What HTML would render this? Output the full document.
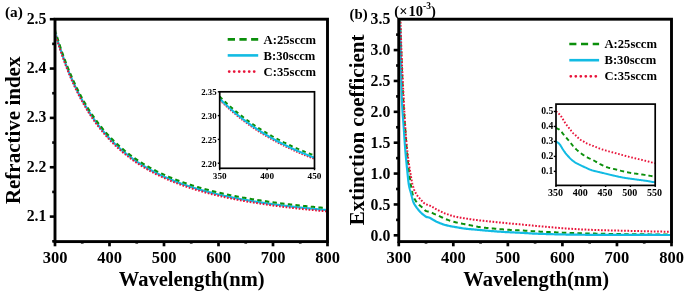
<!DOCTYPE html>
<html><head><meta charset="utf-8"><style>
html,body{margin:0;padding:0;background:#fff;}
svg{display:block;will-change:transform;}
text{font-family:'Liberation Serif',serif;font-weight:bold;fill:#000;}
</style></head><body>
<svg width="685" height="292" viewBox="0 0 685 292">
<rect width="685" height="292" fill="#fff"/>
<defs><clipPath id="ca"><rect x="56.4" y="20.6" width="269.7" height="219.6"/></clipPath><clipPath id="cb"><rect x="400.2" y="20.6" width="269.9" height="219.6"/></clipPath><clipPath id="cai"><rect x="219.7" y="91.8" width="94.8" height="76.5"/></clipPath><clipPath id="cbi"><rect x="556" y="104.1" width="99.2" height="81.3"/></clipPath></defs>
<g clip-path="url(#ca)" fill="none" stroke-width="2"><path d="M55.00,31.69 L56.09,35.39 L57.18,38.99 L58.27,42.49 L59.36,45.90 L60.45,49.21 L61.54,52.44 L62.63,55.58 L63.72,58.64 L64.81,61.62 L65.90,64.52 L66.99,67.35 L68.08,70.10 L69.17,72.79 L70.26,75.41 L71.35,77.96 L72.44,80.45 L73.53,82.88 L74.62,85.25 L75.71,87.56 L76.80,89.82 L77.89,92.02 L78.98,94.17 L80.07,96.27 L81.16,98.32 L82.25,100.33 L83.34,102.29 L84.43,104.20 L85.52,106.07 L86.61,107.90 L87.70,109.69 L88.79,111.43 L89.88,113.14 L90.97,114.81 L92.06,116.45 L93.15,118.05 L94.24,119.61 L95.33,121.14 L96.42,122.64 L97.51,124.11 L98.60,125.55 L99.69,126.96 L100.78,128.33 L101.87,129.68 L102.96,131.01 L104.05,132.30 L105.14,133.57 L106.23,134.82 L107.32,136.04 L108.41,137.23 L109.50,138.40 L110.59,139.55 L111.68,140.68 L112.77,141.78 L113.86,142.87 L114.95,143.93 L116.04,144.98 L117.13,146.00 L118.22,147.00 L119.31,147.99 L120.40,148.96 L121.49,149.91 L122.58,150.84 L123.67,151.76 L124.76,152.66 L125.85,153.54 L126.94,154.41 L128.03,155.26 L129.12,156.09 L130.21,156.92 L131.30,157.72 L132.39,158.52 L133.48,159.30 L134.57,160.07 L135.66,160.82 L136.75,161.56 L137.84,162.29 L138.93,163.01 L140.02,163.71 L141.11,164.40 L142.20,165.09 L143.29,165.76 L144.38,166.41 L145.47,167.06 L146.56,167.70 L147.65,168.33 L148.74,168.95 L149.83,169.56 L150.92,170.15 L152.01,170.74 L153.10,171.32 L154.19,171.89 L155.28,172.46 L156.37,173.01 L157.46,173.55 L158.55,174.09 L159.64,174.62 L160.73,175.14 L161.82,175.65 L162.91,176.16 L164.00,176.66 L165.09,177.15 L166.18,177.63 L167.27,178.10 L168.36,178.57 L169.45,179.04 L170.54,179.49 L171.63,179.94 L172.72,180.38 L173.81,180.82 L174.90,181.25 L175.99,181.67 L177.08,182.09 L178.17,182.50 L179.26,182.91 L180.35,183.31 L181.44,183.71 L182.53,184.10 L183.62,184.48 L184.71,184.86 L185.80,185.24 L186.89,185.61 L187.98,185.97 L189.07,186.33 L190.16,186.68 L191.25,187.03 L192.34,187.38 L193.43,187.72 L194.52,188.06 L195.61,188.39 L196.70,188.72 L197.79,189.04 L198.88,189.36 L199.97,189.68 L201.06,189.99 L202.15,190.30 L203.24,190.60 L204.33,190.90 L205.42,191.20 L206.51,191.49 L207.60,191.78 L208.69,192.06 L209.78,192.34 L210.87,192.62 L211.96,192.90 L213.05,193.17 L214.14,193.44 L215.23,193.70 L216.32,193.96 L217.41,194.22 L218.50,194.48 L219.59,194.73 L220.68,194.98 L221.77,195.23 L222.86,195.47 L223.95,195.71 L225.04,195.95 L226.13,196.19 L227.22,196.42 L228.31,196.65 L229.40,196.88 L230.49,197.10 L231.58,197.33 L232.67,197.55 L233.76,197.76 L234.85,197.98 L235.94,198.19 L237.03,198.40 L238.12,198.61 L239.21,198.82 L240.30,199.02 L241.39,199.22 L242.48,199.42 L243.57,199.62 L244.66,199.81 L245.75,200.00 L246.84,200.20 L247.93,200.38 L249.02,200.57 L250.11,200.75 L251.20,200.94 L252.29,201.12 L253.38,201.30 L254.47,201.47 L255.56,201.65 L256.65,201.82 L257.74,201.99 L258.83,202.16 L259.92,202.33 L261.01,202.50 L262.10,202.66 L263.19,202.83 L264.28,202.99 L265.37,203.15 L266.46,203.31 L267.55,203.46 L268.64,203.62 L269.73,203.77 L270.82,203.92 L271.91,204.07 L273.00,204.22 L274.09,204.37 L275.18,204.51 L276.27,204.66 L277.36,204.80 L278.45,204.94 L279.54,205.08 L280.63,205.22 L281.72,205.36 L282.81,205.50 L283.90,205.63 L284.99,205.77 L286.08,205.90 L287.17,206.03 L288.26,206.16 L289.35,206.29 L290.44,206.42 L291.53,206.54 L292.62,206.67 L293.71,206.79 L294.80,206.92 L295.89,207.04 L296.98,207.16 L298.07,207.28 L299.16,207.40 L300.25,207.51 L301.34,207.63 L302.43,207.75 L303.52,207.86 L304.61,207.97 L305.70,208.09 L306.79,208.20 L307.88,208.31 L308.97,208.42 L310.06,208.53 L311.15,208.63 L312.24,208.74 L313.33,208.85 L314.42,208.95 L315.51,209.05 L316.60,209.16 L317.69,209.26 L318.78,209.36 L319.87,209.46 L320.96,209.56 L322.05,209.66 L323.14,209.76 L324.23,209.85 L325.32,209.95 L326.41,210.04 L327.50,210.14" stroke="#12bbe3" stroke-width="2.2"/><path d="M55.00,29.71 L56.09,33.41 L57.18,37.01 L58.27,40.52 L59.36,43.92 L60.45,47.24 L61.54,50.46 L62.63,53.60 L63.72,56.66 L64.81,59.64 L65.90,62.54 L66.99,65.37 L68.08,68.13 L69.17,70.81 L70.26,73.43 L71.35,75.98 L72.44,78.47 L73.53,80.90 L74.62,83.27 L75.71,85.59 L76.80,87.84 L77.89,90.05 L78.98,92.20 L80.07,94.30 L81.16,96.35 L82.25,98.35 L83.34,100.31 L84.43,102.23 L85.52,104.10 L86.61,105.92 L87.70,107.71 L88.79,109.46 L89.88,111.17 L90.97,112.84 L92.06,114.47 L93.15,116.07 L94.24,117.64 L95.33,119.17 L96.42,120.67 L97.51,122.14 L98.60,123.57 L99.69,124.98 L100.78,126.36 L101.87,127.71 L102.96,129.03 L104.05,130.33 L105.14,131.60 L106.23,132.84 L107.32,134.06 L108.41,135.26 L109.50,136.43 L110.59,137.58 L111.68,138.71 L112.77,139.81 L113.86,140.89 L114.95,141.96 L116.04,143.00 L117.13,144.03 L118.22,145.03 L119.31,146.02 L120.40,146.98 L121.49,147.93 L122.58,148.87 L123.67,149.78 L124.76,150.68 L125.85,151.56 L126.94,152.43 L128.03,153.28 L129.12,154.12 L130.21,154.94 L131.30,155.75 L132.39,156.54 L133.48,157.33 L134.57,158.09 L135.66,158.85 L136.75,159.59 L137.84,160.32 L138.93,161.03 L140.02,161.74 L141.11,162.43 L142.20,163.11 L143.29,163.78 L144.38,164.44 L145.47,165.09 L146.56,165.73 L147.65,166.36 L148.74,166.97 L149.83,167.58 L150.92,168.18 L152.01,168.77 L153.10,169.35 L154.19,169.92 L155.28,170.48 L156.37,171.04 L157.46,171.58 L158.55,172.12 L159.64,172.65 L160.73,173.17 L161.82,173.68 L162.91,174.18 L164.00,174.68 L165.09,175.17 L166.18,175.66 L167.27,176.13 L168.36,176.60 L169.45,177.06 L170.54,177.52 L171.63,177.97 L172.72,178.41 L173.81,178.85 L174.90,179.28 L175.99,179.70 L177.08,180.12 L178.17,180.53 L179.26,180.94 L180.35,181.34 L181.44,181.73 L182.53,182.12 L183.62,182.51 L184.71,182.89 L185.80,183.26 L186.89,183.63 L187.98,184.00 L189.07,184.36 L190.16,184.71 L191.25,185.06 L192.34,185.41 L193.43,185.75 L194.52,186.08 L195.61,186.42 L196.70,186.74 L197.79,187.07 L198.88,187.39 L199.97,187.70 L201.06,188.01 L202.15,188.32 L203.24,188.63 L204.33,188.93 L205.42,189.22 L206.51,189.51 L207.60,189.80 L208.69,190.09 L209.78,190.37 L210.87,190.65 L211.96,190.92 L213.05,191.20 L214.14,191.46 L215.23,191.73 L216.32,191.99 L217.41,192.25 L218.50,192.51 L219.59,192.76 L220.68,193.01 L221.77,193.25 L222.86,193.50 L223.95,193.74 L225.04,193.98 L226.13,194.21 L227.22,194.45 L228.31,194.68 L229.40,194.91 L230.49,195.13 L231.58,195.35 L232.67,195.57 L233.76,195.79 L234.85,196.01 L235.94,196.22 L237.03,196.43 L238.12,196.64 L239.21,196.84 L240.30,197.05 L241.39,197.25 L242.48,197.45 L243.57,197.64 L244.66,197.84 L245.75,198.03 L246.84,198.22 L247.93,198.41 L249.02,198.60 L250.11,198.78 L251.20,198.96 L252.29,199.14 L253.38,199.32 L254.47,199.50 L255.56,199.68 L256.65,199.85 L257.74,200.02 L258.83,200.19 L259.92,200.36 L261.01,200.52 L262.10,200.69 L263.19,200.85 L264.28,201.01 L265.37,201.17 L266.46,201.33 L267.55,201.49 L268.64,201.64 L269.73,201.80 L270.82,201.95 L271.91,202.10 L273.00,202.25 L274.09,202.39 L275.18,202.54 L276.27,202.69 L277.36,202.83 L278.45,202.97 L279.54,203.11 L280.63,203.25 L281.72,203.39 L282.81,203.52 L283.90,203.66 L284.99,203.79 L286.08,203.93 L287.17,204.06 L288.26,204.19 L289.35,204.32 L290.44,204.44 L291.53,204.57 L292.62,204.70 L293.71,204.82 L294.80,204.94 L295.89,205.06 L296.98,205.19 L298.07,205.30 L299.16,205.42 L300.25,205.54 L301.34,205.66 L302.43,205.77 L303.52,205.89 L304.61,206.00 L305.70,206.11 L306.79,206.22 L307.88,206.33 L308.97,206.44 L310.06,206.55 L311.15,206.66 L312.24,206.77 L313.33,206.87 L314.42,206.98 L315.51,207.08 L316.60,207.18 L317.69,207.29 L318.78,207.39 L319.87,207.49 L320.96,207.59 L322.05,207.68 L323.14,207.78 L324.23,207.88 L325.32,207.98 L326.41,208.07 L327.50,208.16" stroke="#0b8f0b" stroke-dasharray="4.4 3.3"/><path d="M55.00,32.97 L56.09,36.67 L57.18,40.27 L58.27,43.77 L59.36,47.18 L60.45,50.49 L61.54,53.72 L62.63,56.86 L63.72,59.92 L64.81,62.90 L65.90,65.80 L66.99,68.63 L68.08,71.38 L69.17,74.07 L70.26,76.69 L71.35,79.24 L72.44,81.73 L73.53,84.16 L74.62,86.53 L75.71,88.84 L76.80,91.10 L77.89,93.30 L78.98,95.46 L80.07,97.56 L81.16,99.61 L82.25,101.61 L83.34,103.57 L84.43,105.48 L85.52,107.35 L86.61,109.18 L87.70,110.97 L88.79,112.72 L89.88,114.42 L90.97,116.10 L92.06,117.73 L93.15,119.33 L94.24,120.90 L95.33,122.43 L96.42,123.93 L97.51,125.39 L98.60,126.83 L99.69,128.24 L100.78,129.62 L101.87,130.97 L102.96,132.29 L104.05,133.59 L105.14,134.86 L106.23,136.10 L107.32,137.32 L108.41,138.51 L109.50,139.69 L110.59,140.84 L111.68,141.96 L112.77,143.07 L113.86,144.15 L114.95,145.22 L116.04,146.26 L117.13,147.28 L118.22,148.29 L119.31,149.27 L120.40,150.24 L121.49,151.19 L122.58,152.12 L123.67,153.04 L124.76,153.94 L125.85,154.82 L126.94,155.69 L128.03,156.54 L129.12,157.38 L130.21,158.20 L131.30,159.01 L132.39,159.80 L133.48,160.58 L134.57,161.35 L135.66,162.10 L136.75,162.84 L137.84,163.57 L138.93,164.29 L140.02,164.99 L141.11,165.69 L142.20,166.37 L143.29,167.04 L144.38,167.70 L145.47,168.35 L146.56,168.98 L147.65,169.61 L148.74,170.23 L149.83,170.84 L150.92,171.44 L152.01,172.03 L153.10,172.61 L154.19,173.18 L155.28,173.74 L156.37,174.29 L157.46,174.84 L158.55,175.37 L159.64,175.90 L160.73,176.42 L161.82,176.94 L162.91,177.44 L164.00,177.94 L165.09,178.43 L166.18,178.91 L167.27,179.39 L168.36,179.86 L169.45,180.32 L170.54,180.77 L171.63,181.22 L172.72,181.67 L173.81,182.10 L174.90,182.53 L175.99,182.96 L177.08,183.38 L178.17,183.79 L179.26,184.19 L180.35,184.60 L181.44,184.99 L182.53,185.38 L183.62,185.77 L184.71,186.15 L185.80,186.52 L186.89,186.89 L187.98,187.25 L189.07,187.61 L190.16,187.97 L191.25,188.32 L192.34,188.66 L193.43,189.00 L194.52,189.34 L195.61,189.67 L196.70,190.00 L197.79,190.32 L198.88,190.64 L199.97,190.96 L201.06,191.27 L202.15,191.58 L203.24,191.88 L204.33,192.18 L205.42,192.48 L206.51,192.77 L207.60,193.06 L208.69,193.35 L209.78,193.63 L210.87,193.91 L211.96,194.18 L213.05,194.45 L214.14,194.72 L215.23,194.99 L216.32,195.25 L217.41,195.51 L218.50,195.76 L219.59,196.02 L220.68,196.27 L221.77,196.51 L222.86,196.76 L223.95,197.00 L225.04,197.24 L226.13,197.47 L227.22,197.70 L228.31,197.93 L229.40,198.16 L230.49,198.39 L231.58,198.61 L232.67,198.83 L233.76,199.05 L234.85,199.26 L235.94,199.48 L237.03,199.69 L238.12,199.89 L239.21,200.10 L240.30,200.30 L241.39,200.50 L242.48,200.70 L243.57,200.90 L244.66,201.09 L245.75,201.29 L246.84,201.48 L247.93,201.67 L249.02,201.85 L250.11,202.04 L251.20,202.22 L252.29,202.40 L253.38,202.58 L254.47,202.76 L255.56,202.93 L256.65,203.11 L257.74,203.28 L258.83,203.45 L259.92,203.62 L261.01,203.78 L262.10,203.95 L263.19,204.11 L264.28,204.27 L265.37,204.43 L266.46,204.59 L267.55,204.74 L268.64,204.90 L269.73,205.05 L270.82,205.20 L271.91,205.36 L273.00,205.50 L274.09,205.65 L275.18,205.80 L276.27,205.94 L277.36,206.09 L278.45,206.23 L279.54,206.37 L280.63,206.51 L281.72,206.64 L282.81,206.78 L283.90,206.92 L284.99,207.05 L286.08,207.18 L287.17,207.31 L288.26,207.44 L289.35,207.57 L290.44,207.70 L291.53,207.83 L292.62,207.95 L293.71,208.08 L294.80,208.20 L295.89,208.32 L296.98,208.44 L298.07,208.56 L299.16,208.68 L300.25,208.80 L301.34,208.91 L302.43,209.03 L303.52,209.14 L304.61,209.26 L305.70,209.37 L306.79,209.48 L307.88,209.59 L308.97,209.70 L310.06,209.81 L311.15,209.92 L312.24,210.02 L313.33,210.13 L314.42,210.23 L315.51,210.34 L316.60,210.44 L317.69,210.54 L318.78,210.64 L319.87,210.74 L320.96,210.84 L322.05,210.94 L323.14,211.04 L324.23,211.14 L325.32,211.23 L326.41,211.33 L327.50,211.42" stroke="#e8143a" stroke-dasharray="1.7 1.6"/></g>
<line x1="55.00" y1="241.60" x2="55.00" y2="246.30" stroke="#000" stroke-width="2.7"/>
<line x1="82.25" y1="241.60" x2="82.25" y2="243.60" stroke="#000" stroke-width="2.7"/>
<line x1="109.50" y1="241.60" x2="109.50" y2="246.30" stroke="#000" stroke-width="2.7"/>
<line x1="136.75" y1="241.60" x2="136.75" y2="243.60" stroke="#000" stroke-width="2.7"/>
<line x1="164.00" y1="241.60" x2="164.00" y2="246.30" stroke="#000" stroke-width="2.7"/>
<line x1="191.25" y1="241.60" x2="191.25" y2="243.60" stroke="#000" stroke-width="2.7"/>
<line x1="218.50" y1="241.60" x2="218.50" y2="246.30" stroke="#000" stroke-width="2.7"/>
<line x1="245.75" y1="241.60" x2="245.75" y2="243.60" stroke="#000" stroke-width="2.7"/>
<line x1="273.00" y1="241.60" x2="273.00" y2="246.30" stroke="#000" stroke-width="2.7"/>
<line x1="300.25" y1="241.60" x2="300.25" y2="243.60" stroke="#000" stroke-width="2.7"/>
<line x1="327.50" y1="241.60" x2="327.50" y2="246.30" stroke="#000" stroke-width="2.7"/>
<line x1="55.00" y1="241.28" x2="52.20" y2="241.28" stroke="#000" stroke-width="2.6"/>
<line x1="55.00" y1="216.60" x2="49.80" y2="216.60" stroke="#000" stroke-width="2.6"/>
<line x1="55.00" y1="191.93" x2="52.20" y2="191.93" stroke="#000" stroke-width="2.6"/>
<line x1="55.00" y1="167.25" x2="49.80" y2="167.25" stroke="#000" stroke-width="2.6"/>
<line x1="55.00" y1="142.57" x2="52.20" y2="142.57" stroke="#000" stroke-width="2.6"/>
<line x1="55.00" y1="117.90" x2="49.80" y2="117.90" stroke="#000" stroke-width="2.6"/>
<line x1="55.00" y1="93.22" x2="52.20" y2="93.22" stroke="#000" stroke-width="2.6"/>
<line x1="55.00" y1="68.55" x2="49.80" y2="68.55" stroke="#000" stroke-width="2.6"/>
<line x1="55.00" y1="43.87" x2="52.20" y2="43.87" stroke="#000" stroke-width="2.6"/>
<line x1="55.00" y1="19.20" x2="49.80" y2="19.20" stroke="#000" stroke-width="2.6"/>
<rect x="55" y="19.2" width="272.50" height="222.40" fill="none" stroke="#000" stroke-width="2.9"/>
<text x="55.00" y="262.80" font-size="16.5" text-anchor="middle" >300</text>
<text x="109.50" y="262.80" font-size="16.5" text-anchor="middle" >400</text>
<text x="164.00" y="262.80" font-size="16.5" text-anchor="middle" >500</text>
<text x="218.50" y="262.80" font-size="16.5" text-anchor="middle" >600</text>
<text x="273.00" y="262.80" font-size="16.5" text-anchor="middle" >700</text>
<text x="327.50" y="262.80" font-size="16.5" text-anchor="middle" >800</text>
<text x="46.40" y="221.10" font-size="15.8" text-anchor="end" >2.1</text>
<text x="46.40" y="171.75" font-size="15.8" text-anchor="end" >2.2</text>
<text x="46.40" y="122.40" font-size="15.8" text-anchor="end" >2.3</text>
<text x="46.40" y="73.05" font-size="15.8" text-anchor="end" >2.4</text>
<text x="46.40" y="23.70" font-size="15.8" text-anchor="end" >2.5</text>
<text x="191.75" y="285.80" font-size="20.5" text-anchor="middle" >Wavelength(nm)</text>
<text transform="translate(19.9,130.35) rotate(-90)" font-size="21" text-anchor="middle">Refractive index</text>
<text x="5.00" y="16.70" font-size="15.3" text-anchor="start" >(a)</text>
<line x1="227.7" y1="39.4" x2="258.2" y2="39.4" stroke="#0b8f0b" stroke-width="2.6" stroke-dasharray="7.3 4.4"/>
<line x1="227.70" y1="55.40" x2="258.20" y2="55.40" stroke="#12bbe3" stroke-width="2.6"/>
<line x1="229.2" y1="71.6" x2="255" y2="71.6" stroke="#e8143a" stroke-width="2.8" stroke-linecap="round" stroke-dasharray="0.01 4.99"/>
<text x="263.60" y="43.90" font-size="12.6" text-anchor="start" >A:25sccm</text>
<text x="263.60" y="60.30" font-size="12.6" text-anchor="start" >B:30sccm</text>
<text x="263.60" y="76.00" font-size="12.6" text-anchor="start" >C:35sccm</text>
<rect x="219.7" y="91.8" width="94.8" height="76.5" fill="#fff"/>
<g clip-path="url(#cai)" fill="none" stroke-width="1.8"><path d="M219.70,99.98 L220.65,100.93 L221.60,101.87 L222.54,102.80 L223.49,103.72 L224.44,104.63 L225.39,105.52 L226.34,106.41 L227.28,107.29 L228.23,108.15 L229.18,109.01 L230.13,109.86 L231.08,110.69 L232.02,111.52 L232.97,112.34 L233.92,113.15 L234.87,113.95 L235.82,114.75 L236.76,115.53 L237.71,116.31 L238.66,117.07 L239.61,117.83 L240.56,118.58 L241.50,119.33 L242.45,120.06 L243.40,120.79 L244.35,121.51 L245.30,122.22 L246.24,122.92 L247.19,123.62 L248.14,124.31 L249.09,124.99 L250.04,125.67 L250.98,126.34 L251.93,127.00 L252.88,127.65 L253.83,128.30 L254.78,128.94 L255.72,129.57 L256.67,130.20 L257.62,130.82 L258.57,131.44 L259.52,132.05 L260.46,132.65 L261.41,133.25 L262.36,133.84 L263.31,134.43 L264.26,135.00 L265.20,135.58 L266.15,136.15 L267.10,136.71 L268.05,137.27 L269.00,137.82 L269.94,138.36 L270.89,138.90 L271.84,139.44 L272.79,139.97 L273.74,140.50 L274.68,141.02 L275.63,141.53 L276.58,142.04 L277.53,142.55 L278.48,143.05 L279.42,143.54 L280.37,144.04 L281.32,144.52 L282.27,145.00 L283.22,145.48 L284.16,145.96 L285.11,146.42 L286.06,146.89 L287.01,147.35 L287.96,147.81 L288.90,148.26 L289.85,148.70 L290.80,149.15 L291.75,149.59 L292.70,150.02 L293.64,150.46 L294.59,150.88 L295.54,151.31 L296.49,151.73 L297.44,152.14 L298.38,152.56 L299.33,152.97 L300.28,153.37 L301.23,153.77 L302.18,154.17 L303.12,154.57 L304.07,154.96 L305.02,155.35 L305.97,155.73 L306.92,156.11 L307.86,156.49 L308.81,156.86 L309.76,157.24 L310.71,157.60 L311.66,157.97 L312.60,158.33 L313.55,158.69 L314.50,159.05" stroke="#e8143a" stroke-width="1.7" stroke-dasharray="1.5 1.4"/><path d="M219.70,98.65 L220.65,99.60 L221.60,100.54 L222.54,101.47 L223.49,102.39 L224.44,103.29 L225.39,104.19 L226.34,105.08 L227.28,105.95 L228.23,106.82 L229.18,107.68 L230.13,108.52 L231.08,109.36 L232.02,110.19 L232.97,111.01 L233.92,111.82 L234.87,112.62 L235.82,113.41 L236.76,114.20 L237.71,114.97 L238.66,115.74 L239.61,116.50 L240.56,117.25 L241.50,117.99 L242.45,118.73 L243.40,119.46 L244.35,120.18 L245.30,120.89 L246.24,121.59 L247.19,122.29 L248.14,122.98 L249.09,123.66 L250.04,124.33 L250.98,125.00 L251.93,125.66 L252.88,126.32 L253.83,126.97 L254.78,127.61 L255.72,128.24 L256.67,128.87 L257.62,129.49 L258.57,130.11 L259.52,130.72 L260.46,131.32 L261.41,131.92 L262.36,132.51 L263.31,133.09 L264.26,133.67 L265.20,134.25 L266.15,134.81 L267.10,135.38 L268.05,135.93 L269.00,136.48 L269.94,137.03 L270.89,137.57 L271.84,138.11 L272.79,138.64 L273.74,139.16 L274.68,139.68 L275.63,140.20 L276.58,140.71 L277.53,141.21 L278.48,141.72 L279.42,142.21 L280.37,142.70 L281.32,143.19 L282.27,143.67 L283.22,144.15 L284.16,144.62 L285.11,145.09 L286.06,145.56 L287.01,146.02 L287.96,146.47 L288.90,146.92 L289.85,147.37 L290.80,147.82 L291.75,148.26 L292.70,148.69 L293.64,149.12 L294.59,149.55 L295.54,149.97 L296.49,150.39 L297.44,150.81 L298.38,151.22 L299.33,151.63 L300.28,152.04 L301.23,152.44 L302.18,152.84 L303.12,153.23 L304.07,153.62 L305.02,154.01 L305.97,154.40 L306.92,154.78 L307.86,155.16 L308.81,155.53 L309.76,155.90 L310.71,156.27 L311.66,156.64 L312.60,157.00 L313.55,157.36 L314.50,157.71" stroke="#12bbe3" stroke-width="2.1"/><path d="M219.70,96.46 L220.65,97.41 L221.60,98.35 L222.54,99.28 L223.49,100.20 L224.44,101.10 L225.39,102.00 L226.34,102.89 L227.28,103.76 L228.23,104.63 L229.18,105.49 L230.13,106.33 L231.08,107.17 L232.02,108.00 L232.97,108.82 L233.92,109.63 L234.87,110.43 L235.82,111.23 L236.76,112.01 L237.71,112.78 L238.66,113.55 L239.61,114.31 L240.56,115.06 L241.50,115.80 L242.45,116.54 L243.40,117.27 L244.35,117.99 L245.30,118.70 L246.24,119.40 L247.19,120.10 L248.14,120.79 L249.09,121.47 L250.04,122.15 L250.98,122.81 L251.93,123.47 L252.88,124.13 L253.83,124.78 L254.78,125.42 L255.72,126.05 L256.67,126.68 L257.62,127.30 L258.57,127.92 L259.52,128.53 L260.46,129.13 L261.41,129.73 L262.36,130.32 L263.31,130.90 L264.26,131.48 L265.20,132.06 L266.15,132.62 L267.10,133.19 L268.05,133.74 L269.00,134.30 L269.94,134.84 L270.89,135.38 L271.84,135.92 L272.79,136.45 L273.74,136.97 L274.68,137.49 L275.63,138.01 L276.58,138.52 L277.53,139.02 L278.48,139.53 L279.42,140.02 L280.37,140.51 L281.32,141.00 L282.27,141.48 L283.22,141.96 L284.16,142.43 L285.11,142.90 L286.06,143.37 L287.01,143.83 L287.96,144.28 L288.90,144.73 L289.85,145.18 L290.80,145.63 L291.75,146.07 L292.70,146.50 L293.64,146.93 L294.59,147.36 L295.54,147.78 L296.49,148.20 L297.44,148.62 L298.38,149.03 L299.33,149.44 L300.28,149.85 L301.23,150.25 L302.18,150.65 L303.12,151.04 L304.07,151.44 L305.02,151.82 L305.97,152.21 L306.92,152.59 L307.86,152.97 L308.81,153.34 L309.76,153.71 L310.71,154.08 L311.66,154.45 L312.60,154.81 L313.55,155.17 L314.50,155.52" stroke="#0b8f0b" stroke-dasharray="3.8 3.3"/></g>
<line x1="219.70" y1="168.30" x2="219.70" y2="170.20" stroke="#000" stroke-width="1.4"/>
<line x1="267.10" y1="168.30" x2="267.10" y2="170.20" stroke="#000" stroke-width="1.4"/>
<line x1="314.50" y1="168.30" x2="314.50" y2="170.20" stroke="#000" stroke-width="1.4"/>
<line x1="219.70" y1="163.20" x2="217.80" y2="163.20" stroke="#000" stroke-width="1.4"/>
<line x1="219.70" y1="139.40" x2="217.80" y2="139.40" stroke="#000" stroke-width="1.4"/>
<line x1="219.70" y1="115.60" x2="217.80" y2="115.60" stroke="#000" stroke-width="1.4"/>
<line x1="219.70" y1="91.80" x2="217.80" y2="91.80" stroke="#000" stroke-width="1.4"/>
<rect x="219.7" y="91.8" width="94.80" height="76.50" fill="none" stroke="#000" stroke-width="1.7"/>
<text x="219.70" y="178.70" font-size="9.2" text-anchor="middle" >350</text>
<text x="267.10" y="178.70" font-size="9.2" text-anchor="middle" >400</text>
<text x="314.50" y="178.70" font-size="9.2" text-anchor="middle" >450</text>
<text x="216.60" y="166.60" font-size="8.8" text-anchor="end" >2.20</text>
<text x="216.60" y="142.80" font-size="8.8" text-anchor="end" >2.25</text>
<text x="216.60" y="119.00" font-size="8.8" text-anchor="end" >2.30</text>
<text x="216.60" y="95.20" font-size="8.8" text-anchor="end" >2.35</text>
<g clip-path="url(#cb)" fill="none" stroke-width="2"><path d="M398.20,-19.03 L398.29,-17.40 L398.37,-15.75 L398.46,-14.07 L398.54,-12.36 L398.63,-10.63 L398.71,-8.87 L398.80,-7.09 L398.88,-5.28 L398.97,-3.45 L399.05,-1.60 L399.14,0.28 L399.22,2.17 L399.31,4.08 L399.39,6.02 L399.48,7.97 L399.56,9.93 L399.65,11.91 L399.73,13.91 L399.82,15.92 L399.90,17.95 L399.99,19.99 L400.07,22.04 L400.16,24.10 L400.24,26.17 L400.33,28.25 L400.41,30.34 L400.50,32.44 L400.58,34.55 L400.67,36.66 L400.75,38.77 L400.84,40.90 L400.92,43.02 L401.01,45.15 L401.09,47.28 L401.18,49.42 L401.26,51.55 L401.35,53.69 L401.43,55.82 L401.52,57.96 L401.60,60.09 L401.69,62.25 L401.77,64.45 L401.86,66.69 L401.94,68.94 L402.03,71.20 L402.11,73.47 L402.20,75.72 L402.28,77.95 L402.37,80.16 L402.45,82.34 L402.54,84.47 L402.62,86.55 L402.71,88.57 L402.79,90.53 L402.88,92.42 L402.96,94.24 L403.05,95.98 L403.13,97.64 L403.22,99.23 L403.30,100.78 L403.39,102.28 L403.47,103.74 L403.56,105.15 L403.64,106.53 L403.73,107.88 L403.81,109.19 L403.90,110.48 L403.98,111.75 L404.07,112.99 L404.15,114.21 L404.24,115.42 L404.32,116.61 L404.41,117.79 L404.49,118.96 L404.58,120.13 L404.66,121.29 L404.75,122.44 L404.83,123.60 L404.92,124.75 L405.00,125.91 L405.09,127.07 L405.17,128.24 L405.26,129.41 L405.34,130.59 L405.43,131.78 L405.51,132.98 L405.60,134.18 L405.68,135.37 L405.77,136.57 L405.85,137.76 L405.94,138.93 L406.02,140.10 L406.11,141.26 L406.19,142.40 L406.28,143.53 L406.36,144.64 L406.45,145.73 L406.53,146.80 L406.62,147.84 L406.70,148.86 L406.79,149.85 L406.87,150.82 L406.96,151.78 L407.04,152.72 L407.13,153.64 L407.21,154.55 L407.30,155.45 L407.38,156.33 L407.47,157.20 L407.55,158.05 L407.64,158.90 L407.72,159.73 L407.81,160.55 L407.89,161.36 L407.98,162.16 L408.06,162.95 L408.15,163.72 L408.23,164.49 L408.32,165.25 L408.40,166.00 L408.49,166.74 L408.57,167.48 L408.66,168.20 L408.74,168.92 L408.83,169.63 L408.91,170.33 L409.00,171.02 L409.08,171.71 L409.17,172.39 L409.25,173.06 L409.34,173.73 L409.42,174.39 L409.51,175.05 L409.59,175.71 L409.68,176.36 L409.76,177.02 L409.85,177.67 L409.93,178.32 L410.02,178.97 L410.10,179.62 L410.19,180.25 L410.27,180.88 L410.36,181.50 L410.44,182.11 L410.53,182.71 L410.61,183.30 L410.70,183.88 L410.78,184.45 L410.87,185.00 L410.95,185.54 L411.04,186.06 L411.12,186.57 L411.21,187.06 L411.29,187.53 L411.38,187.99 L411.46,188.42 L411.55,188.84 L411.63,189.24 L411.72,189.63 L411.80,190.02 L411.89,190.39 L411.97,190.76 L412.06,191.12 L412.14,191.47 L412.23,191.81 L412.31,192.15 L412.40,192.48 L412.48,192.80 L412.57,193.11 L412.65,193.42 L412.74,193.72 L412.82,194.01 L412.91,194.29 L412.99,194.57 L413.08,194.84 L413.16,195.10 L413.25,195.36 L413.33,195.60 L413.42,195.84 L413.50,196.08 L413.59,196.31 L413.67,196.53 L413.76,196.74 L413.84,196.95 L413.93,197.15 L414.01,197.36 L414.10,197.56 L414.18,197.75 L414.27,197.95 L414.35,198.14 L414.44,198.32 L414.52,198.50 L414.61,198.69 L414.69,198.86 L414.78,199.04 L414.86,199.21 L414.95,199.38 L415.03,199.54 L415.12,199.70 L415.12,199.70 L415.97,201.20 L416.83,202.45 L417.69,203.49 L418.54,204.37 L419.40,205.13 L420.26,205.82 L421.12,206.48 L421.97,207.15 L422.83,207.88 L423.69,208.70 L424.55,209.73 L425.40,210.65 L426.26,211.15 L427.12,211.40 L427.98,211.57 L428.83,211.73 L429.69,211.92 L430.55,212.20 L431.41,212.55 L432.26,212.94 L433.12,213.36 L433.98,213.78 L434.84,214.18 L435.69,214.56 L436.55,214.94 L437.41,215.31 L438.27,215.69 L439.12,216.06 L439.98,216.44 L440.84,216.82 L441.70,217.22 L442.55,217.63 L443.41,218.04 L444.27,218.44 L445.13,218.83 L445.98,219.19 L446.84,219.53 L447.70,219.85 L448.56,220.16 L449.41,220.46 L450.27,220.74 L451.13,221.02 L451.99,221.28 L452.84,221.53 L453.70,221.77 L454.56,221.99 L455.42,222.21 L456.27,222.42 L457.13,222.63 L457.99,222.82 L458.85,223.01 L459.70,223.20 L460.56,223.38 L461.42,223.54 L462.28,223.70 L463.13,223.86 L463.99,224.01 L464.85,224.16 L465.71,224.31 L466.56,224.47 L467.42,224.63 L468.28,224.81 L469.14,224.99 L469.99,225.18 L470.85,225.37 L471.71,225.57 L472.57,225.76 L473.42,225.94 L474.28,226.12 L475.14,226.29 L476.00,226.44 L476.85,226.60 L477.71,226.76 L478.57,226.90 L479.43,227.05 L480.28,227.18 L481.14,227.31 L482.00,227.43 L482.86,227.53 L483.71,227.63 L484.57,227.72 L485.43,227.80 L486.29,227.88 L487.14,227.96 L488.00,228.03 L488.86,228.10 L489.72,228.18 L490.57,228.25 L491.43,228.33 L492.29,228.41 L493.15,228.50 L494.00,228.58 L494.86,228.66 L495.72,228.75 L496.58,228.83 L497.43,228.91 L498.29,228.99 L499.15,229.06 L500.01,229.14 L500.86,229.22 L501.72,229.29 L502.58,229.37 L503.43,229.44 L504.29,229.51 L505.15,229.58 L506.01,229.64 L506.86,229.70 L507.72,229.76 L508.58,229.81 L509.44,229.86 L510.29,229.91 L511.15,229.95 L512.01,229.99 L512.87,230.04 L513.72,230.08 L514.58,230.12 L515.44,230.17 L516.30,230.21 L517.15,230.26 L518.01,230.30 L518.87,230.35 L519.73,230.39 L520.58,230.43 L521.44,230.48 L522.30,230.52 L523.16,230.57 L524.01,230.62 L524.87,230.67 L525.73,230.72 L526.59,230.78 L527.44,230.84 L528.30,230.90 L529.16,230.95 L530.02,231.01 L530.87,231.07 L531.73,231.13 L532.59,231.19 L533.45,231.24 L534.30,231.30 L535.16,231.35 L536.02,231.40 L536.88,231.44 L537.73,231.49 L538.59,231.54 L539.45,231.59 L540.31,231.63 L541.16,231.68 L542.02,231.72 L542.88,231.77 L543.74,231.81 L544.59,231.85 L545.45,231.90 L546.31,231.94 L547.17,231.98 L548.02,232.02 L548.88,232.06 L549.74,232.10 L550.60,232.14 L551.45,232.18 L552.31,232.22 L553.17,232.26 L554.03,232.30 L554.88,232.34 L555.74,232.37 L556.60,232.41 L557.46,232.45 L558.31,232.48 L559.17,232.52 L560.03,232.55 L560.89,232.59 L561.74,232.62 L562.60,232.65 L563.46,232.69 L564.32,232.72 L565.17,232.75 L566.03,232.78 L566.89,232.81 L567.75,232.85 L568.60,232.88 L569.46,232.91 L570.32,232.93 L571.18,232.96 L572.03,232.99 L572.89,233.02 L573.75,233.05 L574.61,233.08 L575.46,233.10 L576.32,233.13 L577.18,233.16 L578.04,233.18 L578.89,233.21 L579.75,233.23 L580.61,233.26 L581.47,233.28 L582.32,233.30 L583.18,233.33 L584.04,233.35 L584.90,233.37 L585.75,233.40 L586.61,233.42 L587.47,233.44 L588.32,233.46 L589.18,233.48 L590.04,233.50 L590.90,233.52 L591.75,233.54 L592.61,233.56 L593.47,233.58 L594.33,233.60 L595.18,233.62 L596.04,233.64 L596.90,233.66 L597.76,233.68 L598.61,233.69 L599.47,233.71 L600.33,233.73 L601.19,233.75 L602.04,233.77 L602.90,233.78 L603.76,233.80 L604.62,233.82 L605.47,233.83 L606.33,233.85 L607.19,233.87 L608.05,233.88 L608.90,233.90 L609.76,233.91 L610.62,233.93 L611.48,233.94 L612.33,233.96 L613.19,233.97 L614.05,233.99 L614.91,234.00 L615.76,234.01 L616.62,234.03 L617.48,234.04 L618.34,234.05 L619.19,234.07 L620.05,234.08 L620.91,234.09 L621.77,234.10 L622.62,234.11 L623.48,234.12 L624.34,234.13 L625.20,234.15 L626.05,234.16 L626.91,234.17 L627.77,234.18 L628.63,234.19 L629.48,234.19 L630.34,234.20 L631.20,234.21 L632.06,234.22 L632.91,234.23 L633.77,234.24 L634.63,234.25 L635.49,234.26 L636.34,234.26 L637.20,234.27 L638.06,234.28 L638.92,234.29 L639.77,234.30 L640.63,234.30 L641.49,234.31 L642.35,234.32 L643.20,234.33 L644.06,234.33 L644.92,234.34 L645.78,234.35 L646.63,234.36 L647.49,234.36 L648.35,234.37 L649.21,234.38 L650.06,234.38 L650.92,234.39 L651.78,234.39 L652.64,234.40 L653.49,234.41 L654.35,234.41 L655.21,234.42 L656.07,234.42 L656.92,234.43 L657.78,234.44 L658.64,234.44 L659.50,234.45 L660.35,234.45 L661.21,234.46 L662.07,234.46 L662.93,234.46 L663.78,234.47 L664.64,234.47 L665.50,234.48 L666.36,234.48 L667.21,234.49 L668.07,234.49 L668.93,234.49 L669.79,234.50 L670.64,234.50 L671.50,234.50" stroke="#0b8f0b" stroke-dasharray="4.5 3.3"/><path d="M398.20,19.46 L398.29,19.61 L398.37,19.70 L398.46,19.76 L398.54,19.78 L398.63,19.80 L398.71,19.81 L398.80,19.84 L398.88,19.89 L398.97,19.98 L399.05,20.12 L399.14,20.32 L399.22,20.60 L399.31,20.96 L399.39,21.43 L399.48,22.01 L399.56,22.72 L399.65,23.56 L399.73,24.55 L399.82,25.69 L399.90,27.00 L399.99,28.49 L400.07,30.16 L400.16,32.03 L400.24,34.09 L400.33,36.36 L400.41,38.84 L400.50,41.52 L400.58,44.43 L400.67,47.66 L400.75,51.41 L400.84,55.53 L400.92,59.92 L401.01,64.44 L401.09,69.00 L401.18,73.49 L401.26,77.82 L401.35,81.92 L401.43,85.72 L401.52,89.16 L401.60,92.17 L401.69,94.70 L401.77,96.85 L401.86,98.87 L401.94,100.77 L402.03,102.55 L402.11,104.24 L402.20,105.83 L402.28,107.34 L402.37,108.78 L402.45,110.15 L402.54,111.46 L402.62,112.73 L402.71,113.95 L402.79,115.13 L402.88,116.29 L402.96,117.42 L403.05,118.54 L403.13,119.64 L403.22,120.74 L403.30,121.84 L403.39,122.95 L403.47,124.06 L403.56,125.20 L403.64,126.35 L403.73,127.53 L403.81,128.73 L403.90,129.97 L403.98,131.23 L404.07,132.50 L404.15,133.78 L404.24,135.06 L404.32,136.33 L404.41,137.60 L404.49,138.86 L404.58,140.12 L404.66,141.36 L404.75,142.58 L404.83,143.78 L404.92,144.97 L405.00,146.13 L405.09,147.27 L405.17,148.39 L405.26,149.47 L405.34,150.53 L405.43,151.56 L405.51,152.57 L405.60,153.56 L405.68,154.53 L405.77,155.49 L405.85,156.43 L405.94,157.35 L406.02,158.26 L406.11,159.16 L406.19,160.05 L406.28,160.93 L406.36,161.79 L406.45,162.65 L406.53,163.50 L406.62,164.34 L406.70,165.18 L406.79,166.01 L406.87,166.84 L406.96,167.66 L407.04,168.48 L407.13,169.30 L407.21,170.12 L407.30,170.94 L407.38,171.79 L407.47,172.64 L407.55,173.50 L407.64,174.36 L407.72,175.22 L407.81,176.07 L407.89,176.91 L407.98,177.73 L408.06,178.54 L408.15,179.33 L408.23,180.10 L408.32,180.84 L408.40,181.55 L408.49,182.22 L408.57,182.87 L408.66,183.48 L408.74,184.05 L408.83,184.58 L408.91,185.06 L409.00,185.52 L409.08,185.96 L409.17,186.37 L409.25,186.77 L409.34,187.15 L409.42,187.51 L409.51,187.86 L409.59,188.20 L409.68,188.53 L409.76,188.85 L409.85,189.16 L409.93,189.47 L410.02,189.76 L410.10,190.06 L410.19,190.35 L410.27,190.64 L410.36,190.93 L410.44,191.22 L410.53,191.51 L410.61,191.80 L410.70,192.10 L410.78,192.40 L410.87,192.70 L410.95,193.02 L411.04,193.34 L411.12,193.66 L411.21,193.99 L411.29,194.33 L411.38,194.67 L411.46,195.01 L411.55,195.36 L411.63,195.70 L411.72,196.05 L411.80,196.39 L411.89,196.74 L411.97,197.08 L412.06,197.42 L412.14,197.76 L412.23,198.09 L412.31,198.42 L412.40,198.74 L412.48,199.06 L412.57,199.38 L412.65,199.69 L412.74,199.99 L412.82,200.28 L412.91,200.57 L412.99,200.85 L413.08,201.12 L413.16,201.38 L413.25,201.63 L413.33,201.87 L413.42,202.10 L413.50,202.32 L413.59,202.53 L413.67,202.73 L413.76,202.92 L413.84,203.10 L413.93,203.28 L414.01,203.45 L414.10,203.62 L414.18,203.78 L414.27,203.93 L414.35,204.09 L414.44,204.23 L414.52,204.38 L414.61,204.52 L414.69,204.66 L414.78,204.79 L414.86,204.93 L414.95,205.06 L415.03,205.19 L415.12,205.31 L415.12,205.31 L415.97,206.56 L416.83,207.79 L417.69,208.94 L418.54,210.02 L419.40,211.03 L420.26,211.96 L421.12,212.80 L421.97,213.58 L422.83,214.31 L423.69,215.01 L424.55,215.70 L425.40,216.46 L426.26,216.93 L427.12,217.06 L427.98,217.26 L428.83,217.52 L429.69,217.83 L430.55,218.22 L431.41,218.73 L432.26,219.28 L433.12,219.80 L433.98,220.29 L434.84,220.78 L435.69,221.25 L436.55,221.68 L437.41,222.07 L438.27,222.44 L439.12,222.80 L439.98,223.15 L440.84,223.50 L441.70,223.84 L442.55,224.16 L443.41,224.44 L444.27,224.70 L445.13,224.95 L445.98,225.18 L446.84,225.40 L447.70,225.60 L448.56,225.79 L449.41,225.97 L450.27,226.14 L451.13,226.30 L451.99,226.46 L452.84,226.62 L453.70,226.77 L454.56,226.91 L455.42,227.06 L456.27,227.20 L457.13,227.34 L457.99,227.49 L458.85,227.64 L459.70,227.80 L460.56,227.95 L461.42,228.10 L462.28,228.24 L463.13,228.38 L463.99,228.50 L464.85,228.61 L465.71,228.71 L466.56,228.81 L467.42,228.90 L468.28,228.98 L469.14,229.06 L469.99,229.14 L470.85,229.22 L471.71,229.29 L472.57,229.36 L473.42,229.44 L474.28,229.51 L475.14,229.58 L476.00,229.66 L476.85,229.74 L477.71,229.82 L478.57,229.90 L479.43,229.98 L480.28,230.06 L481.14,230.14 L482.00,230.22 L482.86,230.30 L483.71,230.38 L484.57,230.46 L485.43,230.54 L486.29,230.61 L487.14,230.69 L488.00,230.76 L488.86,230.84 L489.72,230.91 L490.57,230.98 L491.43,231.05 L492.29,231.12 L493.15,231.19 L494.00,231.27 L494.86,231.33 L495.72,231.40 L496.58,231.47 L497.43,231.53 L498.29,231.60 L499.15,231.66 L500.01,231.72 L500.86,231.77 L501.72,231.83 L502.58,231.88 L503.43,231.93 L504.29,231.98 L505.15,232.03 L506.01,232.07 L506.86,232.12 L507.72,232.16 L508.58,232.21 L509.44,232.25 L510.29,232.30 L511.15,232.34 L512.01,232.38 L512.87,232.43 L513.72,232.47 L514.58,232.52 L515.44,232.56 L516.30,232.60 L517.15,232.65 L518.01,232.69 L518.87,232.73 L519.73,232.77 L520.58,232.81 L521.44,232.86 L522.30,232.90 L523.16,232.94 L524.01,232.99 L524.87,233.03 L525.73,233.08 L526.59,233.13 L527.44,233.19 L528.30,233.24 L529.16,233.30 L530.02,233.36 L530.87,233.42 L531.73,233.48 L532.59,233.53 L533.45,233.58 L534.30,233.62 L535.16,233.66 L536.02,233.69 L536.88,233.72 L537.73,233.75 L538.59,233.79 L539.45,233.82 L540.31,233.85 L541.16,233.88 L542.02,233.91 L542.88,233.94 L543.74,233.97 L544.59,233.99 L545.45,234.02 L546.31,234.05 L547.17,234.07 L548.02,234.10 L548.88,234.13 L549.74,234.15 L550.60,234.17 L551.45,234.20 L552.31,234.22 L553.17,234.24 L554.03,234.27 L554.88,234.29 L555.74,234.31 L556.60,234.33 L557.46,234.35 L558.31,234.37 L559.17,234.39 L560.03,234.41 L560.89,234.43 L561.74,234.45 L562.60,234.46 L563.46,234.48 L564.32,234.50 L565.17,234.52 L566.03,234.53 L566.89,234.55 L567.75,234.56 L568.60,234.58 L569.46,234.59 L570.32,234.60 L571.18,234.62 L572.03,234.63 L572.89,234.64 L573.75,234.65 L574.61,234.67 L575.46,234.68 L576.32,234.69 L577.18,234.70 L578.04,234.71 L578.89,234.72 L579.75,234.73 L580.61,234.73 L581.47,234.74 L582.32,234.75 L583.18,234.76 L584.04,234.76 L584.90,234.77 L585.75,234.78 L586.61,234.78 L587.47,234.79 L588.32,234.79 L589.18,234.80 L590.04,234.80 L590.90,234.80 L591.75,234.81 L592.61,234.81 L593.47,234.81 L594.33,234.82 L595.18,234.82 L596.04,234.82 L596.90,234.83 L597.76,234.83 L598.61,234.83 L599.47,234.83 L600.33,234.84 L601.19,234.84 L602.04,234.84 L602.90,234.84 L603.76,234.84 L604.62,234.85 L605.47,234.85 L606.33,234.85 L607.19,234.85 L608.05,234.85 L608.90,234.86 L609.76,234.86 L610.62,234.86 L611.48,234.86 L612.33,234.86 L613.19,234.87 L614.05,234.87 L614.91,234.87 L615.76,234.87 L616.62,234.87 L617.48,234.87 L618.34,234.88 L619.19,234.88 L620.05,234.88 L620.91,234.88 L621.77,234.88 L622.62,234.88 L623.48,234.89 L624.34,234.89 L625.20,234.89 L626.05,234.89 L626.91,234.89 L627.77,234.89 L628.63,234.90 L629.48,234.90 L630.34,234.90 L631.20,234.90 L632.06,234.91 L632.91,234.91 L633.77,234.91 L634.63,234.91 L635.49,234.91 L636.34,234.92 L637.20,234.92 L638.06,234.92 L638.92,234.92 L639.77,234.92 L640.63,234.93 L641.49,234.93 L642.35,234.93 L643.20,234.93 L644.06,234.93 L644.92,234.94 L645.78,234.94 L646.63,234.94 L647.49,234.94 L648.35,234.95 L649.21,234.95 L650.06,234.95 L650.92,234.95 L651.78,234.95 L652.64,234.96 L653.49,234.96 L654.35,234.96 L655.21,234.96 L656.07,234.96 L656.92,234.97 L657.78,234.97 L658.64,234.97 L659.50,234.97 L660.35,234.97 L661.21,234.98 L662.07,234.98 L662.93,234.98 L663.78,234.98 L664.64,234.98 L665.50,234.99 L666.36,234.99 L667.21,234.99 L668.07,234.99 L668.93,235.00 L669.79,235.00 L670.64,235.00 L671.50,235.00" stroke="#12bbe3" stroke-width="2.2"/><path d="M398.20,-70.58 L398.29,-66.53 L398.37,-62.53 L398.46,-58.58 L398.54,-54.67 L398.63,-50.80 L398.71,-46.99 L398.80,-43.22 L398.88,-39.51 L398.97,-35.83 L399.05,-32.21 L399.14,-28.64 L399.22,-25.11 L399.31,-21.64 L399.39,-18.21 L399.48,-14.83 L399.56,-11.50 L399.65,-8.21 L399.73,-4.98 L399.82,-1.80 L399.90,1.34 L399.99,4.43 L400.07,7.47 L400.16,10.47 L400.24,13.41 L400.33,16.31 L400.41,19.16 L400.50,21.96 L400.58,24.72 L400.67,27.43 L400.75,30.10 L400.84,32.71 L400.92,35.29 L401.01,37.82 L401.09,40.30 L401.18,42.74 L401.26,45.13 L401.35,47.48 L401.43,49.79 L401.52,52.05 L401.60,54.27 L401.69,56.45 L401.77,58.59 L401.86,60.68 L401.94,62.72 L402.03,64.72 L402.11,66.68 L402.20,68.60 L402.28,70.48 L402.37,72.34 L402.45,74.16 L402.54,75.96 L402.62,77.73 L402.71,79.48 L402.79,81.21 L402.88,82.93 L402.96,84.62 L403.05,86.30 L403.13,87.97 L403.22,89.63 L403.30,91.28 L403.39,92.93 L403.47,94.56 L403.56,96.20 L403.64,97.83 L403.73,99.46 L403.81,101.09 L403.90,102.71 L403.98,104.33 L404.07,105.94 L404.15,107.53 L404.24,109.12 L404.32,110.69 L404.41,112.24 L404.49,113.77 L404.58,115.28 L404.66,116.77 L404.75,118.24 L404.83,119.68 L404.92,121.10 L405.00,122.49 L405.09,123.85 L405.17,125.18 L405.26,126.47 L405.34,127.74 L405.43,128.97 L405.51,130.18 L405.60,131.35 L405.68,132.51 L405.77,133.65 L405.85,134.77 L405.94,135.87 L406.02,136.96 L406.11,138.02 L406.19,139.07 L406.28,140.09 L406.36,141.10 L406.45,142.09 L406.53,143.06 L406.62,144.01 L406.70,144.94 L406.79,145.85 L406.87,146.74 L406.96,147.61 L407.04,148.47 L407.13,149.30 L407.21,150.11 L407.30,150.91 L407.38,151.69 L407.47,152.46 L407.55,153.22 L407.64,153.96 L407.72,154.68 L407.81,155.40 L407.89,156.10 L407.98,156.79 L408.06,157.47 L408.15,158.14 L408.23,158.79 L408.32,159.44 L408.40,160.08 L408.49,160.71 L408.57,161.33 L408.66,161.94 L408.74,162.55 L408.83,163.15 L408.91,163.74 L409.00,164.32 L409.08,164.89 L409.17,165.46 L409.25,166.03 L409.34,166.59 L409.42,167.14 L409.51,167.69 L409.59,168.23 L409.68,168.77 L409.76,169.30 L409.85,169.83 L409.93,170.36 L410.02,170.88 L410.10,171.40 L410.19,171.92 L410.27,172.43 L410.36,172.95 L410.44,173.46 L410.53,173.98 L410.61,174.49 L410.70,175.01 L410.78,175.52 L410.87,176.02 L410.95,176.53 L411.04,177.03 L411.12,177.52 L411.21,178.01 L411.29,178.50 L411.38,178.98 L411.46,179.45 L411.55,179.91 L411.63,180.37 L411.72,180.82 L411.80,181.26 L411.89,181.69 L411.97,182.12 L412.06,182.53 L412.14,182.93 L412.23,183.33 L412.31,183.71 L412.40,184.08 L412.48,184.45 L412.57,184.80 L412.65,185.14 L412.74,185.46 L412.82,185.78 L412.91,186.08 L412.99,186.37 L413.08,186.65 L413.16,186.92 L413.25,187.19 L413.33,187.45 L413.42,187.71 L413.50,187.96 L413.59,188.20 L413.67,188.45 L413.76,188.68 L413.84,188.91 L413.93,189.14 L414.01,189.36 L414.10,189.58 L414.18,189.80 L414.27,190.00 L414.35,190.21 L414.44,190.41 L414.52,190.61 L414.61,190.80 L414.69,191.00 L414.78,191.18 L414.86,191.37 L414.95,191.55 L415.03,191.72 L415.12,191.90 L415.12,191.90 L415.97,193.50 L416.83,194.86 L417.69,196.03 L418.54,197.10 L419.40,198.11 L420.26,199.13 L421.12,200.10 L421.97,200.99 L422.83,201.89 L423.69,202.76 L424.55,203.52 L425.40,204.10 L426.26,204.45 L427.12,204.64 L427.98,204.90 L428.83,205.22 L429.69,205.57 L430.55,205.94 L431.41,206.34 L432.26,206.78 L433.12,207.29 L433.98,207.86 L434.84,208.41 L435.69,208.94 L436.55,209.43 L437.41,209.87 L438.27,210.29 L439.12,210.70 L439.98,211.10 L440.84,211.51 L441.70,211.92 L442.55,212.32 L443.41,212.74 L444.27,213.14 L445.13,213.48 L445.98,213.76 L446.84,214.03 L447.70,214.32 L448.56,214.64 L449.41,214.97 L450.27,215.29 L451.13,215.57 L451.99,215.84 L452.84,216.08 L453.70,216.29 L454.56,216.47 L455.42,216.64 L456.27,216.80 L457.13,216.99 L457.99,217.18 L458.85,217.38 L459.70,217.56 L460.56,217.71 L461.42,217.86 L462.28,218.00 L463.13,218.13 L463.99,218.25 L464.85,218.37 L465.71,218.49 L466.56,218.62 L467.42,218.74 L468.28,218.87 L469.14,219.00 L469.99,219.14 L470.85,219.27 L471.71,219.40 L472.57,219.53 L473.42,219.66 L474.28,219.78 L475.14,219.89 L476.00,220.00 L476.85,220.10 L477.71,220.20 L478.57,220.30 L479.43,220.40 L480.28,220.49 L481.14,220.59 L482.00,220.68 L482.86,220.77 L483.71,220.86 L484.57,220.95 L485.43,221.03 L486.29,221.12 L487.14,221.20 L488.00,221.28 L488.86,221.37 L489.72,221.45 L490.57,221.54 L491.43,221.63 L492.29,221.71 L493.15,221.80 L494.00,221.89 L494.86,221.98 L495.72,222.07 L496.58,222.16 L497.43,222.25 L498.29,222.33 L499.15,222.42 L500.01,222.51 L500.86,222.60 L501.72,222.69 L502.58,222.77 L503.43,222.86 L504.29,222.94 L505.15,223.02 L506.01,223.11 L506.86,223.19 L507.72,223.27 L508.58,223.35 L509.44,223.43 L510.29,223.51 L511.15,223.59 L512.01,223.66 L512.87,223.74 L513.72,223.82 L514.58,223.90 L515.44,223.97 L516.30,224.05 L517.15,224.13 L518.01,224.21 L518.87,224.28 L519.73,224.36 L520.58,224.44 L521.44,224.52 L522.30,224.60 L523.16,224.68 L524.01,224.76 L524.87,224.84 L525.73,224.92 L526.59,225.01 L527.44,225.09 L528.30,225.17 L529.16,225.26 L530.02,225.34 L530.87,225.42 L531.73,225.50 L532.59,225.59 L533.45,225.67 L534.30,225.75 L535.16,225.82 L536.02,225.90 L536.88,225.98 L537.73,226.06 L538.59,226.14 L539.45,226.21 L540.31,226.29 L541.16,226.37 L542.02,226.45 L542.88,226.53 L543.74,226.60 L544.59,226.68 L545.45,226.76 L546.31,226.84 L547.17,226.91 L548.02,226.99 L548.88,227.06 L549.74,227.14 L550.60,227.21 L551.45,227.29 L552.31,227.36 L553.17,227.44 L554.03,227.51 L554.88,227.58 L555.74,227.65 L556.60,227.72 L557.46,227.79 L558.31,227.86 L559.17,227.93 L560.03,228.00 L560.89,228.07 L561.74,228.13 L562.60,228.20 L563.46,228.26 L564.32,228.33 L565.17,228.39 L566.03,228.45 L566.89,228.52 L567.75,228.58 L568.60,228.64 L569.46,228.69 L570.32,228.75 L571.18,228.81 L572.03,228.87 L572.89,228.92 L573.75,228.97 L574.61,229.03 L575.46,229.08 L576.32,229.13 L577.18,229.18 L578.04,229.23 L578.89,229.28 L579.75,229.32 L580.61,229.37 L581.47,229.41 L582.32,229.46 L583.18,229.50 L584.04,229.54 L584.90,229.58 L585.75,229.62 L586.61,229.66 L587.47,229.70 L588.32,229.73 L589.18,229.77 L590.04,229.80 L590.90,229.83 L591.75,229.87 L592.61,229.90 L593.47,229.93 L594.33,229.96 L595.18,229.99 L596.04,230.02 L596.90,230.04 L597.76,230.07 L598.61,230.10 L599.47,230.13 L600.33,230.15 L601.19,230.18 L602.04,230.20 L602.90,230.23 L603.76,230.25 L604.62,230.27 L605.47,230.30 L606.33,230.32 L607.19,230.34 L608.05,230.37 L608.90,230.39 L609.76,230.41 L610.62,230.43 L611.48,230.45 L612.33,230.48 L613.19,230.50 L614.05,230.52 L614.91,230.54 L615.76,230.56 L616.62,230.58 L617.48,230.60 L618.34,230.62 L619.19,230.64 L620.05,230.66 L620.91,230.68 L621.77,230.70 L622.62,230.72 L623.48,230.74 L624.34,230.76 L625.20,230.78 L626.05,230.80 L626.91,230.83 L627.77,230.85 L628.63,230.87 L629.48,230.89 L630.34,230.91 L631.20,230.93 L632.06,230.95 L632.91,230.97 L633.77,230.99 L634.63,231.01 L635.49,231.03 L636.34,231.05 L637.20,231.07 L638.06,231.09 L638.92,231.11 L639.77,231.13 L640.63,231.15 L641.49,231.17 L642.35,231.19 L643.20,231.21 L644.06,231.23 L644.92,231.25 L645.78,231.27 L646.63,231.29 L647.49,231.31 L648.35,231.33 L649.21,231.35 L650.06,231.37 L650.92,231.38 L651.78,231.40 L652.64,231.42 L653.49,231.44 L654.35,231.46 L655.21,231.48 L656.07,231.50 L656.92,231.51 L657.78,231.53 L658.64,231.55 L659.50,231.57 L660.35,231.59 L661.21,231.60 L662.07,231.62 L662.93,231.64 L663.78,231.66 L664.64,231.67 L665.50,231.69 L666.36,231.71 L667.21,231.73 L668.07,231.74 L668.93,231.76 L669.79,231.78 L670.64,231.79 L671.50,231.81" stroke="#e8143a" stroke-dasharray="1.7 1.6"/></g>
<line x1="398.75" y1="241.60" x2="398.75" y2="246.30" stroke="#000" stroke-width="2.7"/>
<line x1="426.02" y1="241.60" x2="426.02" y2="243.60" stroke="#000" stroke-width="2.7"/>
<line x1="453.30" y1="241.60" x2="453.30" y2="246.30" stroke="#000" stroke-width="2.7"/>
<line x1="480.57" y1="241.60" x2="480.57" y2="243.60" stroke="#000" stroke-width="2.7"/>
<line x1="507.85" y1="241.60" x2="507.85" y2="246.30" stroke="#000" stroke-width="2.7"/>
<line x1="535.12" y1="241.60" x2="535.12" y2="243.60" stroke="#000" stroke-width="2.7"/>
<line x1="562.40" y1="241.60" x2="562.40" y2="246.30" stroke="#000" stroke-width="2.7"/>
<line x1="589.67" y1="241.60" x2="589.67" y2="243.60" stroke="#000" stroke-width="2.7"/>
<line x1="616.95" y1="241.60" x2="616.95" y2="246.30" stroke="#000" stroke-width="2.7"/>
<line x1="644.23" y1="241.60" x2="644.23" y2="243.60" stroke="#000" stroke-width="2.7"/>
<line x1="671.50" y1="241.60" x2="671.50" y2="246.30" stroke="#000" stroke-width="2.7"/>
<line x1="398.75" y1="235.32" x2="393.70" y2="235.32" stroke="#000" stroke-width="2.6"/>
<line x1="398.75" y1="219.89" x2="396.10" y2="219.89" stroke="#000" stroke-width="2.6"/>
<line x1="398.75" y1="204.45" x2="393.70" y2="204.45" stroke="#000" stroke-width="2.6"/>
<line x1="398.75" y1="189.01" x2="396.10" y2="189.01" stroke="#000" stroke-width="2.6"/>
<line x1="398.75" y1="173.57" x2="393.70" y2="173.57" stroke="#000" stroke-width="2.6"/>
<line x1="398.75" y1="158.14" x2="396.10" y2="158.14" stroke="#000" stroke-width="2.6"/>
<line x1="398.75" y1="142.70" x2="393.70" y2="142.70" stroke="#000" stroke-width="2.6"/>
<line x1="398.75" y1="127.26" x2="396.10" y2="127.26" stroke="#000" stroke-width="2.6"/>
<line x1="398.75" y1="111.83" x2="393.70" y2="111.83" stroke="#000" stroke-width="2.6"/>
<line x1="398.75" y1="96.39" x2="396.10" y2="96.39" stroke="#000" stroke-width="2.6"/>
<line x1="398.75" y1="80.95" x2="393.70" y2="80.95" stroke="#000" stroke-width="2.6"/>
<line x1="398.75" y1="65.51" x2="396.10" y2="65.51" stroke="#000" stroke-width="2.6"/>
<line x1="398.75" y1="50.08" x2="393.70" y2="50.08" stroke="#000" stroke-width="2.6"/>
<line x1="398.75" y1="34.64" x2="396.10" y2="34.64" stroke="#000" stroke-width="2.6"/>
<rect x="398.75" y="19.2" width="272.75" height="222.40" fill="none" stroke="#000" stroke-width="2.9"/>
<text x="398.75" y="262.80" font-size="16.5" text-anchor="middle" >300</text>
<text x="453.30" y="262.80" font-size="16.5" text-anchor="middle" >400</text>
<text x="507.85" y="262.80" font-size="16.5" text-anchor="middle" >500</text>
<text x="562.40" y="262.80" font-size="16.5" text-anchor="middle" >600</text>
<text x="616.95" y="262.80" font-size="16.5" text-anchor="middle" >700</text>
<text x="671.50" y="262.80" font-size="16.5" text-anchor="middle" >800</text>
<text x="390.30" y="240.62" font-size="15.8" text-anchor="end" >0.0</text>
<text x="390.30" y="209.75" font-size="15.8" text-anchor="end" >0.5</text>
<text x="390.30" y="178.88" font-size="15.8" text-anchor="end" >1.0</text>
<text x="390.30" y="148.00" font-size="15.8" text-anchor="end" >1.5</text>
<text x="390.30" y="117.12" font-size="15.8" text-anchor="end" >2.0</text>
<text x="390.30" y="86.25" font-size="15.8" text-anchor="end" >2.5</text>
<text x="390.30" y="55.38" font-size="15.8" text-anchor="end" >3.0</text>
<text x="390.30" y="23.50" font-size="15.8" text-anchor="end" >3.5</text>
<text x="536.20" y="285.80" font-size="20.5" text-anchor="middle" >Wavelength(nm)</text>
<text transform="translate(363.6,129.9) rotate(-90)" font-size="21" text-anchor="middle">Extinction coefficient</text>
<text x="349.50" y="18.90" font-size="14.8" text-anchor="start" >(b)</text>
<text x="394.3" y="15.8" font-size="14.5">(×<tspan dx="1">10</tspan><tspan font-size="9.5" dx="0.2" dy="-6.4">-3</tspan><tspan dy="6.4">)</tspan></text>
<line x1="569.3" y1="44" x2="599.1" y2="44" stroke="#0b8f0b" stroke-width="2.6" stroke-dasharray="7.1 4.6"/>
<line x1="569.30" y1="60.20" x2="599.10" y2="60.20" stroke="#12bbe3" stroke-width="2.6"/>
<line x1="570.8" y1="76.3" x2="596" y2="76.3" stroke="#e8143a" stroke-width="2.8" stroke-linecap="round" stroke-dasharray="0.01 4.99"/>
<text x="604.50" y="47.50" font-size="12.6" text-anchor="start" >A:25sccm</text>
<text x="604.50" y="63.90" font-size="12.6" text-anchor="start" >B:30sccm</text>
<text x="604.50" y="79.60" font-size="12.6" text-anchor="start" >C:35sccm</text>
<rect x="556" y="104.1" width="99.2" height="81.3" fill="#fff"/>
<g clip-path="url(#cbi)" fill="none" stroke-width="1.9"><path d="M556.00,127.50 L556.50,127.97 L556.99,128.32 L557.49,128.60 L557.98,128.85 L558.48,129.09 L558.98,129.36 L559.47,129.70 L559.97,130.13 L560.46,130.63 L560.96,131.18 L561.46,131.79 L561.95,132.42 L562.45,133.07 L562.94,133.72 L563.44,134.36 L563.94,134.98 L564.43,135.58 L564.93,136.16 L565.42,136.74 L565.92,137.32 L566.42,137.90 L566.91,138.47 L567.41,139.05 L567.90,139.63 L568.40,140.21 L568.90,140.80 L569.39,141.39 L569.89,141.99 L570.38,142.61 L570.88,143.24 L571.38,143.88 L571.87,144.51 L572.37,145.13 L572.86,145.74 L573.36,146.33 L573.86,146.90 L574.35,147.44 L574.85,147.96 L575.34,148.46 L575.84,148.95 L576.34,149.43 L576.83,149.90 L577.33,150.35 L577.82,150.79 L578.32,151.22 L578.82,151.64 L579.31,152.05 L579.81,152.44 L580.30,152.83 L580.80,153.20 L581.30,153.56 L581.79,153.91 L582.29,154.26 L582.78,154.59 L583.28,154.92 L583.78,155.24 L584.27,155.55 L584.77,155.86 L585.26,156.15 L585.76,156.45 L586.26,156.73 L586.75,157.02 L587.25,157.29 L587.74,157.56 L588.24,157.81 L588.74,158.06 L589.23,158.30 L589.73,158.53 L590.22,158.76 L590.72,158.99 L591.22,159.23 L591.71,159.46 L592.21,159.70 L592.70,159.94 L593.20,160.19 L593.70,160.45 L594.19,160.71 L594.69,160.99 L595.18,161.28 L595.68,161.57 L596.18,161.87 L596.67,162.17 L597.17,162.47 L597.66,162.77 L598.16,163.06 L598.66,163.35 L599.15,163.63 L599.65,163.91 L600.14,164.17 L600.64,164.42 L601.14,164.67 L601.63,164.91 L602.13,165.15 L602.62,165.39 L603.12,165.63 L603.62,165.86 L604.11,166.08 L604.61,166.30 L605.10,166.51 L605.60,166.71 L606.10,166.91 L606.59,167.09 L607.09,167.26 L607.58,167.43 L608.08,167.58 L608.58,167.73 L609.07,167.86 L609.57,167.99 L610.06,168.12 L610.56,168.24 L611.06,168.36 L611.55,168.48 L612.05,168.59 L612.54,168.71 L613.04,168.82 L613.54,168.93 L614.03,169.05 L614.53,169.16 L615.02,169.28 L615.52,169.41 L616.02,169.53 L616.51,169.66 L617.01,169.79 L617.50,169.91 L618.00,170.04 L618.50,170.17 L618.99,170.30 L619.49,170.43 L619.98,170.56 L620.48,170.68 L620.98,170.80 L621.47,170.93 L621.97,171.05 L622.46,171.16 L622.96,171.28 L623.46,171.40 L623.95,171.52 L624.45,171.63 L624.94,171.75 L625.44,171.86 L625.94,171.98 L626.43,172.09 L626.93,172.20 L627.42,172.30 L627.92,172.41 L628.42,172.51 L628.91,172.60 L629.41,172.69 L629.90,172.78 L630.40,172.87 L630.90,172.95 L631.39,173.03 L631.89,173.10 L632.38,173.17 L632.88,173.24 L633.38,173.31 L633.87,173.38 L634.37,173.45 L634.86,173.51 L635.36,173.58 L635.86,173.65 L636.35,173.71 L636.85,173.78 L637.34,173.85 L637.84,173.92 L638.34,173.99 L638.83,174.06 L639.33,174.13 L639.82,174.19 L640.32,174.26 L640.82,174.33 L641.31,174.40 L641.81,174.46 L642.30,174.53 L642.80,174.60 L643.30,174.67 L643.79,174.74 L644.29,174.82 L644.78,174.89 L645.28,174.97 L645.78,175.04 L646.27,175.12 L646.77,175.21 L647.26,175.29 L647.76,175.38 L648.26,175.47 L648.75,175.56 L649.25,175.65 L649.74,175.75 L650.24,175.84 L650.74,175.93 L651.23,176.02 L651.73,176.11 L652.22,176.20 L652.72,176.29 L653.22,176.38 L653.71,176.46 L654.21,176.54 L654.70,176.62 L655.20,176.70" stroke="#0b8f0b" stroke-dasharray="4.2 3"/><path d="M556.00,141.60 L556.50,141.85 L556.99,142.04 L557.49,142.34 L557.98,142.69 L558.48,143.10 L558.98,143.55 L559.47,144.06 L559.97,144.65 L560.46,145.39 L560.96,146.22 L561.46,147.07 L561.95,147.91 L562.45,148.68 L562.94,149.45 L563.44,150.22 L563.94,150.97 L564.43,151.70 L564.93,152.40 L565.42,153.06 L565.92,153.68 L566.42,154.28 L566.91,154.85 L567.41,155.41 L567.90,155.96 L568.40,156.50 L568.90,157.04 L569.39,157.59 L569.89,158.12 L570.38,158.64 L570.88,159.12 L571.38,159.58 L571.87,160.00 L572.37,160.41 L572.86,160.80 L573.36,161.18 L573.86,161.54 L574.35,161.89 L574.85,162.22 L575.34,162.54 L575.84,162.85 L576.34,163.14 L576.83,163.42 L577.33,163.69 L577.82,163.95 L578.32,164.21 L578.82,164.46 L579.31,164.71 L579.81,164.95 L580.30,165.19 L580.80,165.43 L581.30,165.66 L581.79,165.88 L582.29,166.10 L582.78,166.32 L583.28,166.54 L583.78,166.76 L584.27,166.99 L584.77,167.21 L585.26,167.45 L585.76,167.68 L586.26,167.92 L586.75,168.16 L587.25,168.40 L587.74,168.63 L588.24,168.86 L588.74,169.08 L589.23,169.29 L589.73,169.49 L590.22,169.69 L590.72,169.87 L591.22,170.04 L591.71,170.20 L592.21,170.35 L592.70,170.50 L593.20,170.64 L593.70,170.78 L594.19,170.91 L594.69,171.03 L595.18,171.16 L595.68,171.28 L596.18,171.40 L596.67,171.51 L597.17,171.63 L597.66,171.74 L598.16,171.86 L598.66,171.97 L599.15,172.08 L599.65,172.19 L600.14,172.31 L600.64,172.42 L601.14,172.54 L601.63,172.66 L602.13,172.78 L602.62,172.91 L603.12,173.03 L603.62,173.15 L604.11,173.28 L604.61,173.40 L605.10,173.53 L605.60,173.65 L606.10,173.77 L606.59,173.90 L607.09,174.02 L607.58,174.14 L608.08,174.27 L608.58,174.39 L609.07,174.51 L609.57,174.63 L610.06,174.75 L610.56,174.87 L611.06,174.98 L611.55,175.10 L612.05,175.21 L612.54,175.33 L613.04,175.44 L613.54,175.55 L614.03,175.66 L614.53,175.78 L615.02,175.89 L615.52,176.00 L616.02,176.11 L616.51,176.22 L617.01,176.33 L617.50,176.44 L618.00,176.55 L618.50,176.65 L618.99,176.76 L619.49,176.86 L619.98,176.96 L620.48,177.07 L620.98,177.17 L621.47,177.26 L621.97,177.36 L622.46,177.45 L622.96,177.55 L623.46,177.63 L623.95,177.72 L624.45,177.81 L624.94,177.89 L625.44,177.97 L625.94,178.05 L626.43,178.13 L626.93,178.20 L627.42,178.28 L627.92,178.35 L628.42,178.42 L628.91,178.49 L629.41,178.56 L629.90,178.63 L630.40,178.70 L630.90,178.77 L631.39,178.84 L631.89,178.91 L632.38,178.97 L632.88,179.04 L633.38,179.11 L633.87,179.18 L634.37,179.24 L634.86,179.31 L635.36,179.38 L635.86,179.45 L636.35,179.52 L636.85,179.58 L637.34,179.65 L637.84,179.72 L638.34,179.78 L638.83,179.85 L639.33,179.91 L639.82,179.98 L640.32,180.04 L640.82,180.11 L641.31,180.17 L641.81,180.24 L642.30,180.30 L642.80,180.37 L643.30,180.43 L643.79,180.50 L644.29,180.57 L644.78,180.64 L645.28,180.71 L645.78,180.78 L646.27,180.85 L646.77,180.93 L647.26,181.00 L647.76,181.09 L648.26,181.17 L648.75,181.26 L649.25,181.35 L649.74,181.44 L650.24,181.53 L650.74,181.62 L651.23,181.71 L651.73,181.80 L652.22,181.89 L652.72,181.97 L653.22,182.04 L653.71,182.12 L654.21,182.18 L654.70,182.24 L655.20,182.30" stroke="#12bbe3" stroke-width="2"/><path d="M556.00,111.30 L556.50,111.64 L556.99,111.92 L557.49,112.31 L557.98,112.77 L558.48,113.27 L558.98,113.81 L559.47,114.36 L559.97,114.92 L560.46,115.51 L560.96,116.14 L561.46,116.81 L561.95,117.53 L562.45,118.35 L562.94,119.23 L563.44,120.10 L563.94,120.94 L564.43,121.78 L564.93,122.58 L565.42,123.33 L565.92,124.03 L566.42,124.70 L566.91,125.35 L567.41,126.00 L567.90,126.63 L568.40,127.25 L568.90,127.87 L569.39,128.50 L569.89,129.12 L570.38,129.75 L570.88,130.37 L571.38,131.01 L571.87,131.66 L572.37,132.28 L572.86,132.86 L573.36,133.36 L573.86,133.81 L574.35,134.22 L574.85,134.64 L575.34,135.07 L575.84,135.53 L576.34,136.03 L576.83,136.55 L577.33,137.06 L577.82,137.55 L578.32,138.00 L578.82,138.43 L579.31,138.85 L579.81,139.26 L580.30,139.63 L580.80,139.97 L581.30,140.27 L581.79,140.54 L582.29,140.81 L582.78,141.06 L583.28,141.32 L583.78,141.59 L584.27,141.87 L584.77,142.17 L585.26,142.48 L585.76,142.77 L586.26,143.06 L586.75,143.33 L587.25,143.57 L587.74,143.80 L588.24,144.02 L588.74,144.23 L589.23,144.44 L589.73,144.63 L590.22,144.83 L590.72,145.02 L591.22,145.21 L591.71,145.39 L592.21,145.58 L592.70,145.77 L593.20,145.96 L593.70,146.16 L594.19,146.36 L594.69,146.56 L595.18,146.77 L595.68,146.97 L596.18,147.18 L596.67,147.38 L597.17,147.59 L597.66,147.79 L598.16,147.99 L598.66,148.18 L599.15,148.37 L599.65,148.56 L600.14,148.74 L600.64,148.91 L601.14,149.08 L601.63,149.25 L602.13,149.41 L602.62,149.56 L603.12,149.72 L603.62,149.87 L604.11,150.02 L604.61,150.17 L605.10,150.31 L605.60,150.46 L606.10,150.60 L606.59,150.74 L607.09,150.88 L607.58,151.02 L608.08,151.16 L608.58,151.30 L609.07,151.44 L609.57,151.57 L610.06,151.70 L610.56,151.83 L611.06,151.96 L611.55,152.09 L612.05,152.22 L612.54,152.35 L613.04,152.48 L613.54,152.61 L614.03,152.74 L614.53,152.87 L615.02,153.01 L615.52,153.14 L616.02,153.28 L616.51,153.41 L617.01,153.55 L617.50,153.69 L618.00,153.82 L618.50,153.96 L618.99,154.10 L619.49,154.23 L619.98,154.37 L620.48,154.51 L620.98,154.65 L621.47,154.78 L621.97,154.92 L622.46,155.05 L622.96,155.19 L623.46,155.33 L623.95,155.46 L624.45,155.60 L624.94,155.73 L625.44,155.86 L625.94,155.99 L626.43,156.12 L626.93,156.26 L627.42,156.38 L627.92,156.51 L628.42,156.64 L628.91,156.77 L629.41,156.89 L629.90,157.02 L630.40,157.14 L630.90,157.27 L631.39,157.39 L631.89,157.51 L632.38,157.63 L632.88,157.75 L633.38,157.87 L633.87,157.99 L634.37,158.12 L634.86,158.23 L635.36,158.35 L635.86,158.47 L636.35,158.59 L636.85,158.71 L637.34,158.83 L637.84,158.95 L638.34,159.07 L638.83,159.19 L639.33,159.31 L639.82,159.43 L640.32,159.55 L640.82,159.67 L641.31,159.79 L641.81,159.91 L642.30,160.03 L642.80,160.15 L643.30,160.28 L643.79,160.40 L644.29,160.52 L644.78,160.65 L645.28,160.77 L645.78,160.90 L646.27,161.02 L646.77,161.15 L647.26,161.28 L647.76,161.41 L648.26,161.54 L648.75,161.66 L649.25,161.79 L649.74,161.92 L650.24,162.05 L650.74,162.18 L651.23,162.31 L651.73,162.43 L652.22,162.56 L652.72,162.69 L653.22,162.81 L653.71,162.93 L654.21,163.06 L654.70,163.18 L655.20,163.30" stroke="#e8143a" stroke-dasharray="1.6 1.8"/></g>
<line x1="556.00" y1="185.40" x2="556.00" y2="187.00" stroke="#000" stroke-width="1.4"/>
<line x1="580.80" y1="185.40" x2="580.80" y2="187.00" stroke="#000" stroke-width="1.4"/>
<line x1="605.60" y1="185.40" x2="605.60" y2="187.00" stroke="#000" stroke-width="1.4"/>
<line x1="630.40" y1="185.40" x2="630.40" y2="187.00" stroke="#000" stroke-width="1.4"/>
<line x1="655.20" y1="185.40" x2="655.20" y2="187.00" stroke="#000" stroke-width="1.4"/>
<line x1="556.00" y1="171.38" x2="553.80" y2="171.38" stroke="#000" stroke-width="1.4"/>
<line x1="556.00" y1="156.40" x2="553.80" y2="156.40" stroke="#000" stroke-width="1.4"/>
<line x1="556.00" y1="141.43" x2="553.80" y2="141.43" stroke="#000" stroke-width="1.4"/>
<line x1="556.00" y1="126.45" x2="553.80" y2="126.45" stroke="#000" stroke-width="1.4"/>
<line x1="556.00" y1="111.47" x2="553.80" y2="111.47" stroke="#000" stroke-width="1.4"/>
<rect x="556" y="104.1" width="99.20" height="81.30" fill="none" stroke="#000" stroke-width="1.7"/>
<text x="555.40" y="195.70" font-size="10" text-anchor="middle" >350</text>
<text x="580.20" y="195.70" font-size="10" text-anchor="middle" >400</text>
<text x="605.00" y="195.70" font-size="10" text-anchor="middle" >450</text>
<text x="629.80" y="195.70" font-size="10" text-anchor="middle" >500</text>
<text x="654.60" y="195.70" font-size="10" text-anchor="middle" >550</text>
<text x="553.30" y="174.28" font-size="9.7" text-anchor="end" >0.1</text>
<text x="553.30" y="159.30" font-size="9.7" text-anchor="end" >0.2</text>
<text x="553.30" y="144.33" font-size="9.7" text-anchor="end" >0.3</text>
<text x="553.30" y="129.35" font-size="9.7" text-anchor="end" >0.4</text>
<text x="553.30" y="114.38" font-size="9.7" text-anchor="end" >0.5</text>
</svg></body></html>
